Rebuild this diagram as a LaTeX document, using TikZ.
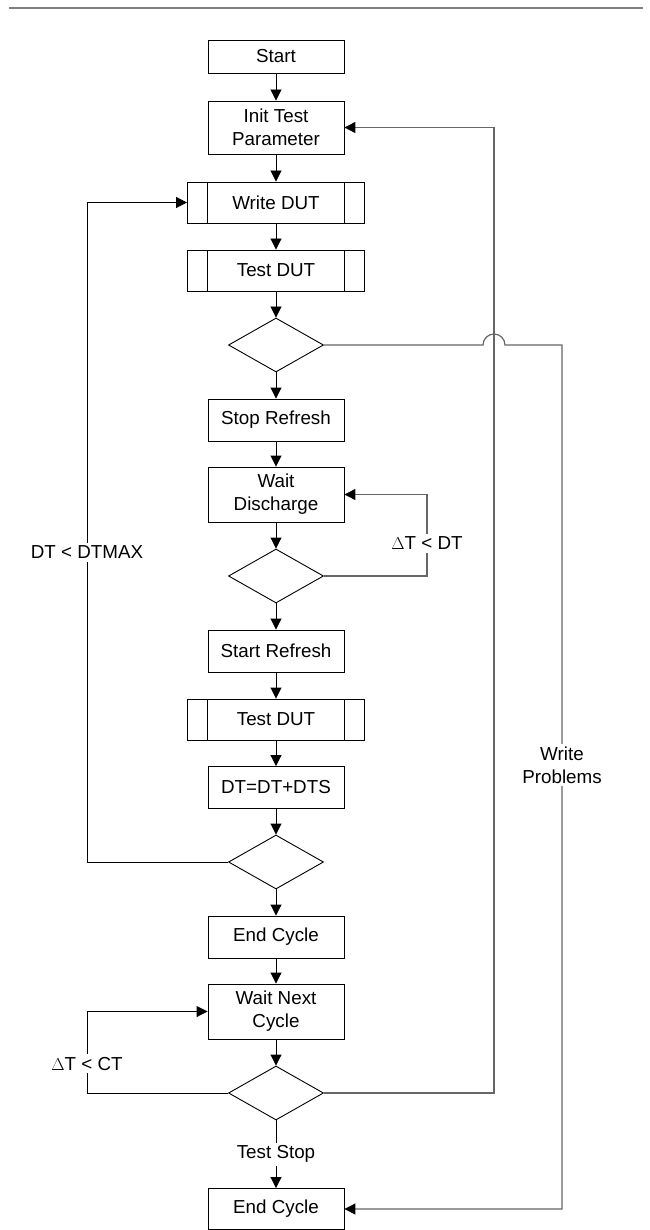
\documentclass[tikz,border=0pt]{standalone}
\usepackage{fontspec}
\setmainfont{Liberation Sans}
\usetikzlibrary{arrows.meta, shapes.geometric}

\begin{document}
\begin{tikzpicture}[x=1pt, y=1pt, line width=0.9pt,
    >={Triangle[length=11pt, width=11pt]},
    every node/.style={font=\fontsize{18.8}{22.8}\selectfont},
    proc/.style={draw, minimum width=136pt, minimum height=42pt, inner sep=2pt, align=center},
    subproc/.style={proc, minimum width=177pt, minimum height=41pt,
        path picture={
            \draw ([xshift=20pt]path picture bounding box.north west) -- ([xshift=20pt]path picture bounding box.south west);
            \draw ([xshift=-20pt]path picture bounding box.north east) -- ([xshift=-20pt]path picture bounding box.south east);
        }},
    check/.style={draw, diamond, minimum width=95pt, minimum height=54pt, inner sep=0pt, aspect=1.76},
    lbl/.style={fill=white, inner sep=3pt, align=center},
    back/.style={-{Triangle[length=11pt, width=11pt, color=black]}, draw=black!60, line width=1.2pt}]

    \useasboundingbox (0,0) rectangle (649,-1230);

    % ── Top rule ──────────────────────────────────────────────────────────────
    \draw[black!50, line width=2.5pt] (9,-8) -- (643,-8);

    % ── Main column ──────────────────────────────────────────────────────────
    \node[proc, minimum height=33pt] (start) at (276,-56.5) {Start};
    \node[proc, minimum height=53pt] (init) at (276,-127.5) {Init Test\\Parameter};
    \node[subproc] (writedut) at (276,-202.5) {Write DUT};
    \node[subproc] (testdut) at (276,-270.5) {Test DUT};
    \node[check] (chk1) at (276,-345) {};
    \node[proc] (stoprefresh) at (276,-420) {Stop Refresh};
    \node[proc, minimum height=55pt] (waitdis) at (276,-494.5) {Wait\\Discharge};
    \node[check] (chk2) at (276,-576) {};
    \node[proc] (startrefresh) at (276,-651) {Start Refresh};
    \node[subproc] (testdut2) at (276,-719.5) {Test DUT};
    \node[proc] (dtinc) at (276,-787.5) {DT=DT+DTS};
    \node[check] (chk3) at (276,-862) {};
    \node[proc] (endcycle) at (276,-937) {End Cycle};
    \node[proc, minimum height=55pt] (waitnext) at (276,-1011.5) {Wait Next\\Cycle};
    \node[check] (chk4) at (276,-1093) {};
    \node[proc, minimum height=41pt] (endcycle2) at (276,-1209) {End Cycle};

    % ── Columns of the return lines ───────────────────────────────────────────
    \coordinate (loopL) at (87,0);
    \coordinate (loopR) at (427,0);
    \coordinate (backx) at (494,0);
    \coordinate (probx) at (562,0);

    % ── Straight flow ─────────────────────────────────────────────────────────
    \draw[->] (start) -- (init);
    \draw[->] (init) -- (writedut);
    \draw[->] (writedut) -- (testdut);
    \draw[->] (testdut) -- (chk1);
    \draw[->] (chk1) -- (stoprefresh);
    \draw[->] (stoprefresh) -- (waitdis);
    \draw[->] (waitdis) -- (chk2);
    \draw[->] (chk2) -- (startrefresh);
    \draw[->] (startrefresh) -- (testdut2);
    \draw[->] (testdut2) -- (dtinc);
    \draw[->] (dtinc) -- (chk3);
    \draw[->] (chk3) -- (endcycle);
    \draw[->] (endcycle) -- (waitnext);
    \draw[->] (waitnext) -- (chk4);
    \draw[->] (chk4) -- node[lbl] {Test Stop} (endcycle2);

    % ── Loops ─────────────────────────────────────────────────────────────────
    \draw[back] (chk2.east) -- (chk2.east -| loopR)
        -- node[lbl, pos=0.40] {$\Delta$T < DT} (waitdis.east -| loopR) -- (waitdis.east);
    \draw[->] (chk3.west) -- (chk3.west -| loopL)
        -- node[lbl, pos=0.47] {DT < DTMAX} (writedut.west -| loopL) -- (writedut.west);
    \draw[->] (chk4.west) -- (chk4.west -| loopL)
        -- node[lbl, pos=0.36] {$\Delta$T < CT} (waitnext.west -| loopL) -- (waitnext.west);
    \draw[back] (chk4.east) -- (chk4.east -| backx) -- (init.east -| backx) -- (init.east);

    % ── Problem exit, jumping over the return line ───────────────────────────
    \draw[back] (chk1.east) -- ([xshift=-11pt]chk1.east -| backx)
        arc[start angle=180, end angle=0, radius=11pt] -- (chk1.east -| probx)
        -- node[lbl, pos=0.486] {Write\\Problems} (endcycle2.east -| probx) -- (endcycle2.east);

\end{tikzpicture}
\end{document}
